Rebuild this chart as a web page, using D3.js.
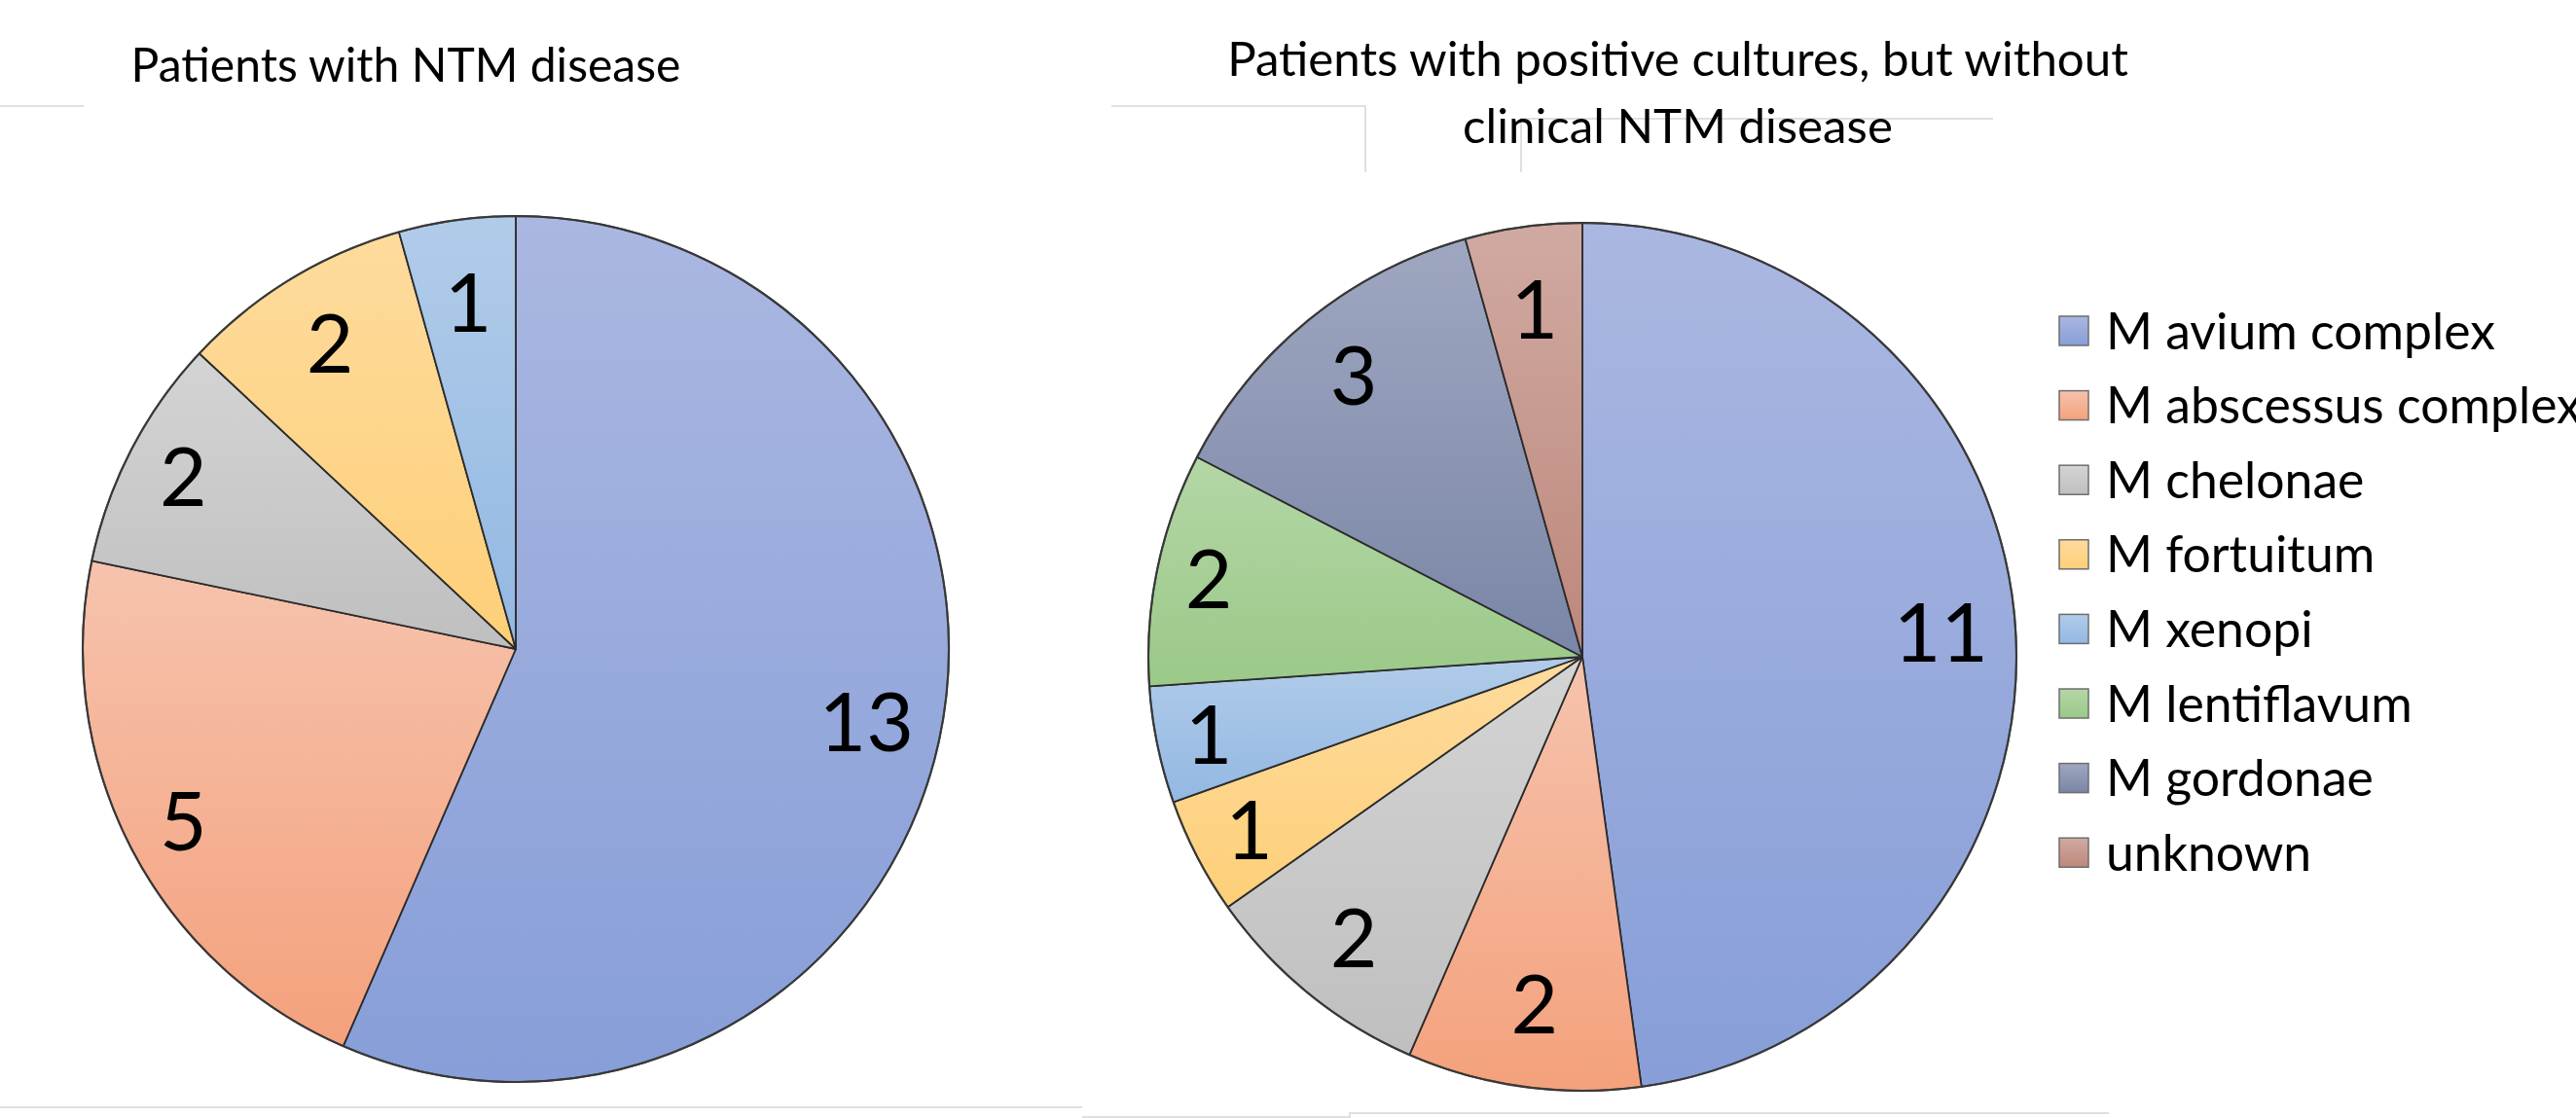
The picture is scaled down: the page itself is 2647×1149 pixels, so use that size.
<!DOCTYPE html>
<html>
<head>
<meta charset="utf-8">
<script src="https://cdn.jsdelivr.net/npm/d3@7"></script>
<style>
  html, body { margin: 0; padding: 0; background: #fff; }
  svg { display: block; }
  text { font-family: Lato, "Open Sans", sans-serif; fill: #000; }
</style>
</head>
<body>
<svg id="chart" width="2647" height="1149"></svg>
<script>
// ---------- data ----------
const categories = ["M avium complex", "M abscessus complex", "M chelonae", "M fortuitum",
                    "M xenopi", "M lentiflavum", "M gordonae", "unknown"];
const diseaseValues   = [13, 5, 2, 2, 1, 0, 0, 0];
const noDiseaseValues = [11, 2, 2, 1, 1, 2, 3, 1];
const titleLeft  = ["Patients with NTM disease"];
const titleRight = ["Patients with positive cultures, but without", "clinical NTM disease"];

// ---------- styles ----------
const topColors    = ["#AAB7E1", "#F6C3AD", "#D4D4D4", "#FEDB9D", "#B1CCE9", "#B4D6A6", "#9FA7C0", "#D0AAA2"];
const bottomColors = ["#879ED8", "#F4A17C", "#BFBFBF", "#FDCF78", "#93B8E3", "#9AC988", "#7A86A7", "#BE877B"];

const svg = d3.select("#chart");
const defs = svg.append("defs");
const colorIndex = d3.scaleOrdinal().domain(categories).range(d3.range(categories.length));

categories.forEach((c, i) => {
  const g = defs.append("linearGradient").attr("id", "grad" + i)
    .attr("x1", 0).attr("y1", 0).attr("x2", 0).attr("y2", 1);
  g.append("stop").attr("offset", "0%").attr("stop-color", topColors[i]);
  g.append("stop").attr("offset", "100%").attr("stop-color", bottomColors[i]);
});

// ---------- decorative grey frame lines ----------
const frame = svg.append("g").attr("stroke", "#e0e0e0").attr("stroke-width", 2).attr("fill", "none");
[
  [[0, 109], [86, 109]],
  [[1142, 109], [1403, 109], [1403, 177]],
  [[2048, 122], [1563, 122], [1563, 177]],
  [[0, 1138], [1112, 1138]],
  [[1112, 1148], [1387, 1148]],
  [[1387, 1150], [1387, 1144], [2167, 1144]]
].forEach(pts => frame.append("path").attr("d", d3.line()(pts)));

// ---------- pies ----------
const pie = d3.pie().sort(null).value(d => d.value);
const labelFont = 84;
const capRatio = 0.7165;

function drawPie(values, cx, cy, r) {
  const data = categories.map((c, i) => ({ cat: c, value: values[i] }));
  const arcs = pie(data).filter(d => d.data.value > 0);
  const arc = d3.arc().innerRadius(0).outerRadius(r);
  const g = svg.append("g").attr("transform", `translate(${cx},${cy})`);

  g.selectAll("path.slice").data(arcs).join("path")
    .attr("class", "slice")
    .attr("d", arc)
    .attr("fill", d => `url(#grad${colorIndex(d.data.cat)})`)
    .attr("stroke", "#2b2b2b")
    .attr("stroke-width", 1.8)
    .attr("stroke-linejoin", "round");

  // outer ring slightly darker (soft edge)
  g.append("circle").attr("r", r).attr("fill", "none")
    .attr("stroke", "#3a3a3a").attr("stroke-width", 2.2).attr("stroke-opacity", 0.85);

  // labels: "inside end" style placement on an ellipse
  const rin = r - 28;
  const halfH = 58;
  g.selectAll("text.lab").data(arcs).join("text")
    .attr("class", "lab")
    .attr("text-anchor", "middle")
    .attr("font-size", labelFont)
    .text(d => d.data.value)
    .each(function(d) {
      const halfW = this.getComputedTextLength() / 2;
      const mid = (d.startAngle + d.endAngle) / 2;
      const ux = Math.sin(mid), uy = -Math.cos(mid);
      const a = rin - halfW, b = rin - halfH;
      const dist = 1 / Math.sqrt((ux / a) ** 2 + (uy / b) ** 2);
      d3.select(this)
        .attr("x", dist * ux)
        .attr("y", dist * uy + labelFont * capRatio / 2);
    });
}

drawPie(diseaseValues, 530, 667, 445);
drawPie(noDiseaseValues, 1626, 675, 446);

// ---------- titles ----------
function fitText(sel, targetWidth) {
  sel.attr("font-size", 100);
  const w = sel.node().getComputedTextLength();
  sel.attr("font-size", 100 * targetWidth / w);
}
const t1 = svg.append("text").attr("x", 417).attr("y", 84).attr("text-anchor", "middle").text(titleLeft[0]);
fitText(t1, 565);
const t2 = svg.append("text").attr("x", 1724).attr("y", 78).attr("text-anchor", "middle").text(titleRight[0]);
fitText(t2, 926);
svg.append("text").attr("x", 1724).attr("y", 147).attr("text-anchor", "middle")
  .attr("font-size", t2.attr("font-size")).text(titleRight[1]);

// ---------- legend ----------
const legendY = d3.scalePoint().domain(categories).range([340, 340 + 76.6 * 7]);
const legend = svg.append("g");
const probe = legend.append("text").text(categories[0]);
fitText(probe, 400);
const legendFont = +probe.attr("font-size");
probe.remove();

const items = legend.selectAll("g.item").data(categories).join("g").attr("class", "item")
  .attr("transform", d => `translate(0,${legendY(d)})`);
items.append("rect").attr("x", 2116).attr("y", -15).attr("width", 30).attr("height", 30)
  .attr("fill", d => `url(#grad${colorIndex(d)})`)
  .attr("stroke", "#6e6e6e").attr("stroke-width", 1.5);
items.append("text").attr("x", 2164).attr("y", legendFont * capRatio / 2)
  .attr("font-size", legendFont).text(d => d);
</script>
</body>
</html>
